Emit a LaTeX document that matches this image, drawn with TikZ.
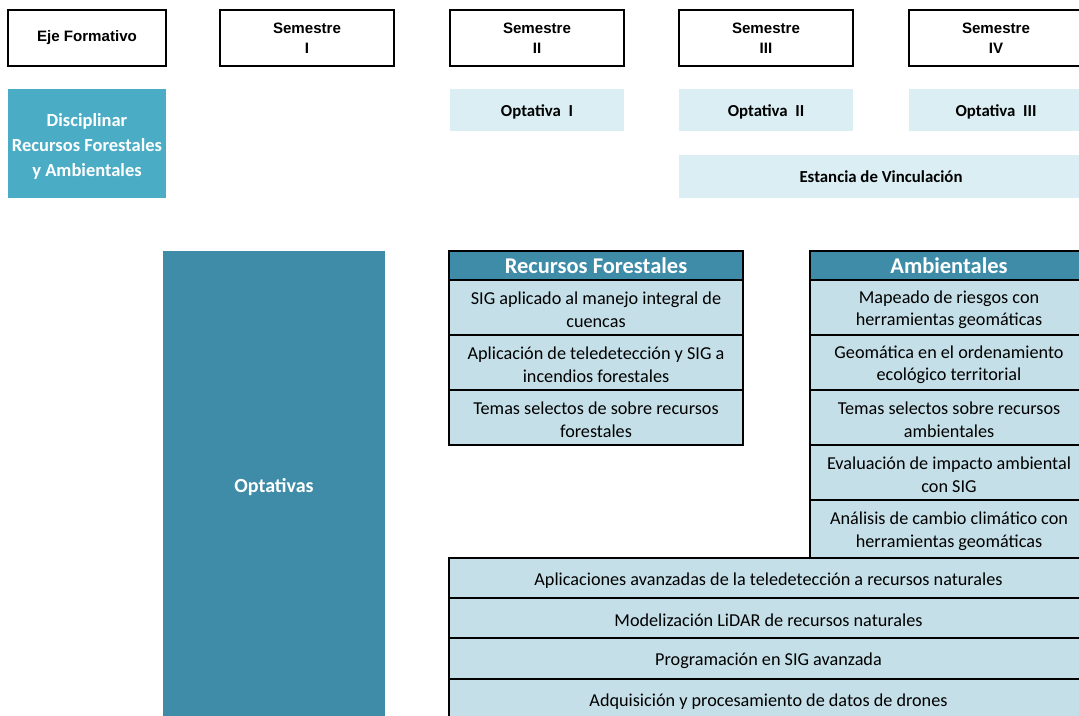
\documentclass[tikz,border=0pt]{standalone}
\usepackage{fontspec}
\setmainfont{Carlito}
\newfontfamily\arialf{Liberation Sans}
\definecolor{discol}{HTML}{4BACC6}
\definecolor{lightcol}{HTML}{DAEEF3}
\definecolor{darkcol}{HTML}{3F8CA8}
\definecolor{rowcol}{HTML}{C4DFE8}
\tikzset{
  hdrbox/.style={draw=black, line width=1.2pt, fill=white, inner sep=0pt, align=center,
    minimum height=56pt, font=\arialf\bfseries\fontsize{15.1}{20}\selectfont},
  lightbox/.style={fill=lightcol, inner sep=0pt},
  lighttext/.style={inner sep=0pt, align=center, yshift=-1.5pt,
    font=\bfseries\fontsize{16.8}{20}\selectfont},
  cell/.style={draw=black, line width=1.6pt, fill=rowcol, inner sep=0pt},
  celltext/.style={inner sep=0pt, align=center, yshift=-2.3pt,
    font=\fontsize{18.2}{22.8}\selectfont},
  whitetext/.style={inner sep=0pt, align=center, text=white, yshift=-2.5pt},
  headcell/.style={draw=black, line width=1.6pt, fill=darkcol, inner sep=0pt, align=center,
    text=white, font=\bfseries\fontsize{22.5}{24}\selectfont}
}
\newcommand{\mycell}[6]{%
  \node[cell, minimum width=#4pt, minimum height=#5pt,
        label={[celltext]center:{#6}}] (#1) at (#2,#3) {};}
\begin{document}
\begin{tikzpicture}[x=1pt,y=-1pt]
\useasboundingbox (0,0) rectangle (1079,715);
% header row
\node[hdrbox, minimum width=158pt] (eje) at (87,38) {Eje Formativo};
\node[hdrbox, minimum width=174pt] (s1) at (307,38) {Semestre\\I};
\node[hdrbox, minimum width=174pt] (s2) at (537,38) {Semestre\\II};
\node[hdrbox, minimum width=174pt] (s3) at (766,38) {Semestre\\III};
\node[hdrbox, minimum width=174pt] (s4) at (996,38) {Semestre\\IV};
% second row
\node[fill=discol, inner sep=0pt, minimum width=158pt, minimum height=109pt,
  label={[whitetext, font=\bfseries\fontsize{18.5}{25}\selectfont]center:{Disciplinar\\Recursos Forestales\\y Ambientales}}]
  (dis) at (87,143.5) {};
\node[lightbox, minimum width=174pt, minimum height=42pt, label={[lighttext]center:{Optativa\ \ I}}] (o1) at (537,110) {};
\node[lightbox, minimum width=174pt, minimum height=42pt, label={[lighttext]center:{Optativa\ \ II}}] (o2) at (766,110) {};
\node[lightbox, minimum width=174pt, minimum height=42pt, label={[lighttext]center:{Optativa\ \ III}}] (o3) at (996,110) {};
\node[lightbox, minimum width=404pt, minimum height=43pt, label={[lighttext, yshift=1.5pt]center:{Estancia de Vinculación}}] (est) at (881,176.5) {};
% big optativas
\node[fill=darkcol, inner sep=0pt, minimum width=222pt, minimum height=468pt,
  label={[whitetext, font=\bfseries\fontsize{20}{24}\selectfont]center:{Optativas}}] (opt) at (274,485) {};
% Recursos Forestales
\node[headcell, minimum width=294pt, minimum height=29pt] (rfh) at (596,265.5) {Recursos Forestales};
\mycell{rf1}{596}{307.5}{294}{55}{SIG aplicado al manejo integral de\\cuencas}
\mycell{rf2}{596}{362.5}{294}{55}{Aplicación de teledetección y SIG a\\incendios forestales}
\mycell{rf3}{596}{417.5}{294}{55}{Temas selectos de sobre recursos\\forestales}
% Ambientales
\node[headcell, minimum width=278pt, minimum height=29pt] (amh) at (949,265.5) {Ambientales};
\mycell{am1}{949}{307.5}{278}{55}{Mapeado de riesgos con\\herramientas geomáticas}
\mycell{am2}{949}{362.5}{278}{55}{Geomática en el ordenamiento\\ecológico territorial}
\mycell{am3}{949}{417.5}{278}{55}{Temas selectos sobre recursos\\ambientales}
\mycell{am4}{949}{472.5}{278}{55}{Evaluación de impacto ambiental\\con SIG}
\mycell{am5}{949}{529}{278}{58}{Análisis de cambio climático con\\herramientas geomáticas}
% bottom rows
\mycell{b1}{768.5}{578}{639}{40}{Aplicaciones avanzadas de la teledetección a recursos naturales}
\mycell{b2}{768.5}{618}{639}{40}{Modelización LiDAR de recursos naturales}
\mycell{b3}{768.5}{658.5}{639}{41}{Programación en SIG avanzada}
\mycell{b4}{768.5}{699}{639}{40}{Adquisición y procesamiento de datos de drones}
\end{tikzpicture}
\end{document}
